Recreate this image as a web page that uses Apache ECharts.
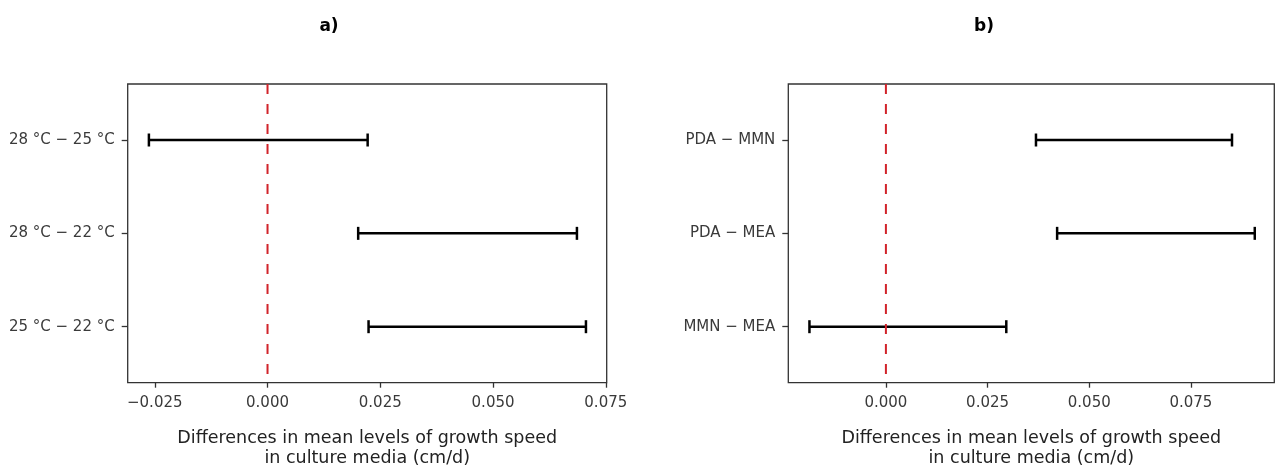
<!DOCTYPE html>
<html>
<head>
<meta charset="utf-8">
<script src="https://cdn.jsdelivr.net/npm/echarts@6/dist/echarts.min.js"></script>
<style>
html, body { margin: 0; padding: 0; background: #ffffff; }
#chart { width: 1276px; height: 467px; }
</style>
</head>
<body>
<div id="chart"></div>
<script>
// ---------- data ----------
const panelTitles = ['a)', 'b)'];

const categoriesA = ['28 °C − 25 °C', '28 °C − 22 °C', '25 °C − 22 °C'];
const lowerA = [-0.0263, 0.0201, 0.0224];
const upperA = [0.0222, 0.0686, 0.0706];
const xTicksA = [-0.025, 0.000, 0.025, 0.050, 0.075];
const xTickLabelsA = ['\u22120.025', '0.000', '0.025', '0.050', '0.075'];
const xRangeA = [-0.0310, 0.0752];

const categoriesB = ['PDA − MMN', 'PDA − MEA', 'MMN − MEA'];
const lowerB = [0.0369, 0.0421, -0.0188];
const upperB = [0.0851, 0.0907, 0.0296];
const xTicksB = [0.000, 0.025, 0.050, 0.075];
const xTickLabelsB = ['0.000', '0.025', '0.050', '0.075'];
const xRangeB = [-0.0240, 0.0955];

const referenceValue = 0;
const axisTitle = 'Differences in mean levels of growth speed\nin culture media (cm/d)';

// ---------- layout / style ----------
const FONT = '"DejaVu Sans", "Liberation Sans", sans-serif';
const AXIS_COLOR = '#333333';
const LABEL_COLOR = '#3a3a3a';

const panels = [
  { title: panelTitles[0], cats: categoriesA, lo: lowerA, hi: upperA, ticks: xTicksA, tickLabels: xTickLabelsA,
    range: xRangeA, box: { left: 127.7, top: 84, width: 479, height: 298.7 }, titleX: 329 },
  { title: panelTitles[1], cats: categoriesB, lo: lowerB, hi: upperB, ticks: xTicksB, tickLabels: xTickLabelsB,
    range: xRangeB, box: { left: 788.3, top: 84, width: 486, height: 298.7 }, titleX: 984 }
];

const option = {
  backgroundColor: '#ffffff',
  animation: false,
  grid: [], xAxis: [], yAxis: [], series: [], graphic: []
};

const HIDDEN = {
  axisLine: { show: false, onZero: false },
  axisTick: { show: false },
  axisLabel: { show: false },
  splitLine: { show: false },
  splitArea: { show: false },
  minorTick: { show: false },
  minorSplitLine: { show: false }
};

panels.forEach((p, i) => {
  const b = p.box;
  const span = p.range[1] - p.range[0];
  const n = p.cats.length;
  const band = b.height / (n + 0.2);
  const t0 = p.ticks[0], t1 = p.ticks[p.ticks.length - 1];

  // grid 3i : frame
  option.grid.push({ left: b.left, top: b.top, width: b.width, height: b.height, outerBoundsMode: 'none',
    containLabel: false, show: true, borderColor: AXIS_COLOR, borderWidth: 1.3, backgroundColor: 'transparent' });
  // grid 3i+1 : data area (categories)
  option.grid.push({ left: b.left, top: b.top + 0.1 * band, width: b.width, height: n * band,
    outerBoundsMode: 'none', containLabel: false, show: false });
  // grid 3i+2 : tick axis, spanning first..last tick
  option.grid.push({ left: b.left + (t0 - p.range[0]) / span * b.width, top: b.top,
    width: (t1 - t0) / span * b.width, height: b.height, outerBoundsMode: 'none', containLabel: false, show: false });

  // x axes
  option.xAxis.push(Object.assign({ gridIndex: 3 * i, type: 'value', min: p.range[0], max: p.range[1],
    name: axisTitle, nameLocation: 'middle', nameGap: 46,
    nameTextStyle: { fontFamily: FONT, fontSize: 17.5, color: '#222222', lineHeight: 20 } }, HIDDEN));
  option.xAxis.push(Object.assign({ gridIndex: 3 * i + 1, type: 'value', min: p.range[0], max: p.range[1] }, HIDDEN));
  option.xAxis.push({ gridIndex: 3 * i + 2, type: 'category', data: p.tickLabels, boundaryGap: false,
    axisLine: { show: false, onZero: false },
    axisTick: { show: true, interval: 0, length: 5, lineStyle: { color: AXIS_COLOR, width: 1.3 } },
    axisLabel: { show: true, interval: 0, margin: 13, fontFamily: FONT, fontSize: 15, color: LABEL_COLOR },
    splitLine: { show: false } });

  // y axes
  option.yAxis.push(Object.assign({ gridIndex: 3 * i, type: 'value', min: 0, max: 1 }, HIDDEN));
  option.yAxis.push({ gridIndex: 3 * i + 1, type: 'category', data: p.cats, inverse: true, boundaryGap: true,
    position: 'left',
    axisLine: { show: false, onZero: false },
    axisTick: { show: true, alignWithLabel: true, length: 6, lineStyle: { color: AXIS_COLOR, width: 1.3 } },
    axisLabel: { show: true, margin: 13, fontFamily: FONT, fontSize: 15, color: LABEL_COLOR },
    splitLine: { show: false } });
  option.yAxis.push(Object.assign({ gridIndex: 3 * i + 2, type: 'value', min: 0, max: 1 }, HIDDEN));

  // error bars
  option.series.push({
    type: 'custom', xAxisIndex: 3 * i + 1, yAxisIndex: 3 * i + 1, z: 2,
    data: p.cats.map((c, k) => [k, p.lo[k], p.hi[k]]),
    encode: { y: 0, x: [1, 2] },
    renderItem: function (params, api) {
      const y = api.value(0);
      const a = api.coord([api.value(1), y]);
      const c = api.coord([api.value(2), y]);
      const h = 6.5;
      const st = { stroke: '#000000', lineWidth: 2.5 };
      return { type: 'group', children: [
        { type: 'line', shape: { x1: a[0], y1: a[1], x2: c[0], y2: c[1] }, style: st },
        { type: 'line', shape: { x1: a[0], y1: a[1] - h, x2: a[0], y2: a[1] + h }, style: st },
        { type: 'line', shape: { x1: c[0], y1: c[1] - h, x2: c[0], y2: c[1] + h }, style: st }
      ] };
    }
  });

  // reference (zero) line
  option.series.push({
    type: 'custom', xAxisIndex: 3 * i, yAxisIndex: 3 * i, z: 3,
    data: [[referenceValue]],
    encode: { x: 0 },
    renderItem: function (params, api) {
      const v = api.value(0);
      const top = api.coord([v, 1]);
      const bot = api.coord([v, 0]);
      return { type: 'line', shape: { x1: top[0], y1: top[1], x2: bot[0], y2: bot[1] },
        style: { stroke: '#d1232a', lineWidth: 2, lineDash: [10, 10] } };
    }
  });

  // panel title
  option.graphic.push({ type: 'text', x: p.titleX, y: 26.5,
    style: { text: p.title, fontFamily: FONT, fontSize: 17, fontWeight: 'bold', fill: '#000000',
      align: 'center', verticalAlign: 'middle' } });
});

const chart = echarts.init(document.getElementById('chart'), null, { renderer: 'canvas' });
chart.setOption(option);
</script>
</body>
</html>
